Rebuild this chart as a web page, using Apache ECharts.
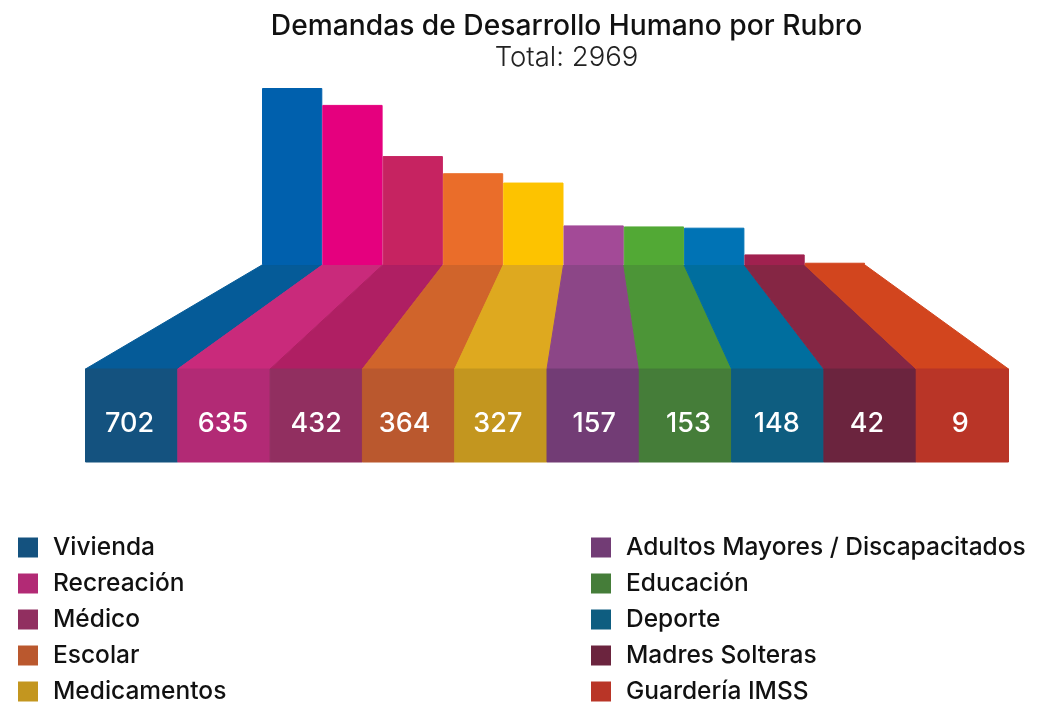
<!DOCTYPE html>
<html>
<head>
<meta charset="utf-8">
<title>Demandas de Desarrollo Humano por Rubro</title>
<script src="https://cdn.jsdelivr.net/npm/echarts@6/dist/echarts.min.js"></script>
<style>
  html, body { margin: 0; padding: 0; background: #fff; }
  #chart { width: 1043px; height: 703px; }
</style>
</head>
<body>
<div id="chart"></div>
<script>
const categories = ['Vivienda', 'Recreación', 'Médico', 'Escolar', 'Medicamentos',
  'Adultos Mayores / Discapacitados', 'Educación', 'Deporte', 'Madres Solteras', 'Guardería IMSS'];
const values = [702, 635, 432, 364, 327, 157, 153, 148, 42, 9];
const barColors = ['#0060ad', '#e5007e', '#c62361', '#ea6d2a', '#fdc300', '#a34a97', '#52a935', '#0073b5', '#a0214f', '#d2451e'];
const floorColors = ['#055b98', '#c92a7b', '#af1f63', '#d0642b', '#dea91f', '#8c4687', '#4c9537', '#006e9e', '#852644', '#d2451e'];
const frontColors = ['#14527f', '#b22a75', '#912f60', '#ba582e', '#c3961f', '#723c75', '#457d39', '#0e5d80', '#6b243e', '#b93527'];

const FONT = 'Inter';
const barsGrid = { left: 262, top: 88, width: 603, height: 177 };
const frontGrid = { left: 85.5, top: 369, width: 923, height: 93 };
// los numeros no estan bien centrados en el original
const labelShift = [-2, -1, 0, -4, -3, 1, 3, -1, -3, -2];

const chart = echarts.init(document.getElementById('chart'), null, { renderer: 'canvas' });

// suelo en perspectiva + cara frontal con el numero
function renderFront(params, api) {
  const i = api.value(0);
  const left = api.coord([i, 0]);
  const right = api.coord([i + 1, 1]);
  const band = barsGrid.width / categories.length;
  // borde de arriba: sale de la base de cada barra
  const base = chart.convertToPixel({ gridIndex: 0 }, [i, 0]);
  const topL = base[0] - band / 2;
  const topR = base[0] + band / 2;
  const floorColor = floorColors[i];
  return {
    type: 'group',
    children: [
      {
        type: 'polygon',
        shape: { points: [[topL, base[1]], [topR, base[1]], [right[0], right[1]], [left[0], right[1]]] },
        style: { fill: floorColor, stroke: floorColor, lineWidth: 1 }
      },
      {
        type: 'rect',
        shape: { x: left[0], y: right[1], width: right[0] - left[0], height: left[1] - right[1] },
        style: { fill: frontColors[i], stroke: frontColors[i], lineWidth: 1 }
      },
      {
        type: 'text',
        style: {
          x: (left[0] + right[0]) / 2 + labelShift[i],
          y: api.coord([i, 0.41])[1],
          text: String(api.value(1)),
          fill: '#fff',
          fontFamily: FONT,
          fontSize: 27,
          fontWeight: 500,
          align: 'center',
          verticalAlign: 'middle'
        }
      }
    ]
  };
}

function legendCol(names, left) {
  return {
    orient: 'vertical',
    left: left,
    top: 535,
    height: 190,
    padding: 0,
    icon: 'rect',
    itemWidth: 20,
    itemHeight: 20,
    itemGap: 11,
    selectedMode: false,
    textStyle: { fontFamily: FONT, fontSize: 24.5, fontWeight: 500, color: '#111', lineHeight: 20, padding: [0, 0, 0, 10] },
    data: names.map(function (name) {
      return {
        name: name,
        itemStyle: { color: frontColors[categories.indexOf(name)], borderWidth: 0 }
      };
    })
  };
}

const barSeries = categories.map(function (name, i) {
  return {
    name: name,
    type: 'bar',
    xAxisIndex: 0,
    yAxisIndex: 0,
    stack: 'rubro',
    barWidth: '100%',
    itemStyle: { color: barColors[i], borderColor: barColors[i], borderWidth: 1 },
    data: values.map(function (v, j) { return j === i ? v : null; })
  };
});

chart.setOption({
  animation: false,
  backgroundColor: '#fff',
  title: [
    {
      text: 'Demandas de Desarrollo Humano por Rubro',
      left: 561.5,
      top: 8,
      textAlign: 'center',
      textStyle: { fontFamily: FONT, fontSize: 28.2, fontWeight: 500, color: '#111' }
    },
    {
      text: 'Total: 2969',
      left: 561.5,
      top: 39,
      textAlign: 'center',
      textStyle: { fontFamily: FONT, fontSize: 27.5, fontWeight: 300, color: '#222' }
    }
  ],
  legend: [legendCol(categories.slice(0, 5), 18), legendCol(categories.slice(5), 591)],
  grid: [barsGrid, frontGrid],
  xAxis: [
    { type: 'category', gridIndex: 0, data: categories, show: false },
    { type: 'value', gridIndex: 1, min: 0, max: categories.length, show: false }
  ],
  yAxis: [
    { type: 'value', gridIndex: 0, min: 0, max: 702, show: false },
    { type: 'value', gridIndex: 1, min: 0, max: 1, show: false }
  ],
  series: barSeries.concat([{
    type: 'custom',
    xAxisIndex: 1,
    yAxisIndex: 1,
    silent: true,
    renderItem: renderFront,
    encode: { x: 0, y: 1 },
    data: values.map(function (v, i) { return [i, v]; }),
    clip: false
  }])
});
</script>
</body>
</html>
